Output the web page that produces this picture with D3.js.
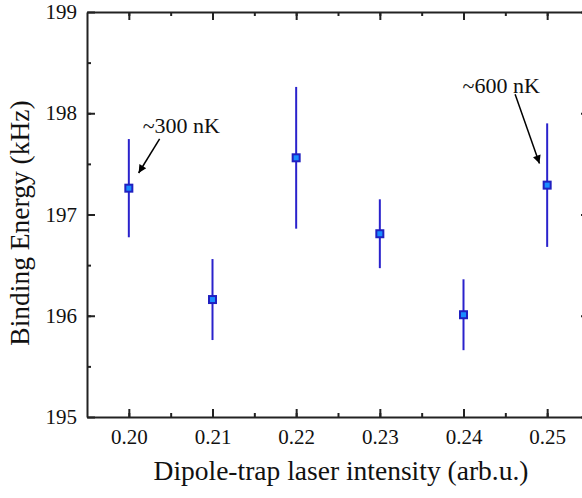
<!DOCTYPE html>
<html><head><meta charset="utf-8">
<script src="https://cdn.jsdelivr.net/npm/d3@7"></script>
<style>html,body{margin:0;padding:0;background:#fff;}svg{display:block;}</style>
</head><body>
<svg id="chart" width="582" height="498"></svg>
<script>
const intensity = [0.20, 0.21, 0.22, 0.23, 0.24, 0.25];
const bindingEnergy = [197.26, 196.16, 197.56, 196.81, 196.01, 197.29];
const errorBars = [0.485, 0.40, 0.70, 0.34, 0.35, 0.61];
const xTicks = [0.20, 0.21, 0.22, 0.23, 0.24, 0.25];
const yTicks = [195, 196, 197, 198, 199];
const annotationText = ["~300 nK", "~600 nK"];
const annotationTextPos = [[0.20165, 197.805], [0.23989, 198.20]];
const arrowStart = [[0.20368, 197.746], [0.24617, 198.187]];
const arrowEnd = [[0.20117, 197.41], [0.24908, 197.504]];

const svg = d3.select("#chart");
const L = 87, R = 589, T = 12, B = 417;
const x = d3.scaleLinear().domain([0.195, 0.255]).range([L, R]);
const y = d3.scaleLinear().domain([195, 199]).range([B, T]);
const font = "Liberation Serif, Times New Roman, Times, serif";

svg.append("defs").append("marker")
  .attr("id", "ah").attr("viewBox", "0 0 10 10").attr("refX", 10).attr("refY", 5)
  .attr("markerWidth", 11).attr("markerHeight", 8).attr("markerUnits", "userSpaceOnUse")
  .attr("orient", "auto")
  .append("path").attr("d", "M0,0 L10,5 L0,10 Z").attr("fill", "#000");

const xMinor = d3.range(0, 12).map(i => 0.195 + i * 0.005).filter(v => v > 0.1951 && v < 0.2549);
const yMinor = d3.range(0, 9).map(i => 195 + i * 0.5).filter(v => v > 195.01 && v < 198.99);

function styleAxis(g) {
  g.select(".domain").attr("stroke", "#222").attr("stroke-width", 2);
  g.selectAll(".tick line").attr("stroke", "#222").attr("stroke-width", 2);
}
// bottom
const gB = svg.append("g").attr("transform", `translate(0,${B})`)
  .call(d3.axisBottom(x).tickValues(xTicks).tickFormat(d3.format(".2f")).tickSizeInner(-8).tickSizeOuter(0).tickPadding(12));
styleAxis(gB);
gB.selectAll("text").attr("font-family", font).attr("font-size", 21).attr("fill", "#111");
svg.append("g").attr("transform", `translate(0,${B})`)
  .call(d3.axisBottom(x).tickValues(xMinor).tickFormat("").tickSizeInner(-4).tickSizeOuter(0))
  .call(g => { g.select(".domain").remove(); g.selectAll("line").attr("stroke", "#222").attr("stroke-width", 2); });
// top
const gT = svg.append("g").attr("transform", `translate(0,${T})`)
  .call(d3.axisTop(x).tickValues(xTicks).tickFormat("").tickSizeInner(-8).tickSizeOuter(0));
styleAxis(gT);
svg.append("g").attr("transform", `translate(0,${T})`)
  .call(d3.axisTop(x).tickValues(xMinor).tickFormat("").tickSizeInner(-4).tickSizeOuter(0))
  .call(g => { g.select(".domain").remove(); g.selectAll("line").attr("stroke", "#222").attr("stroke-width", 2); });
// left
const gL = svg.append("g").attr("transform", `translate(${L},0)`)
  .call(d3.axisLeft(y).tickValues(yTicks).tickFormat(d3.format("d")).tickSizeInner(-8).tickSizeOuter(0).tickPadding(10));
styleAxis(gL);
gL.selectAll("text").attr("font-family", font).attr("font-size", 21).attr("fill", "#111");
svg.append("g").attr("transform", `translate(${L},0)`)
  .call(d3.axisLeft(y).tickValues(yMinor).tickFormat("").tickSizeInner(-4).tickSizeOuter(0))
  .call(g => { g.select(".domain").remove(); g.selectAll("line").attr("stroke", "#222").attr("stroke-width", 2); });
// right
const gR = svg.append("g").attr("transform", `translate(${R},0)`)
  .call(d3.axisRight(y).tickValues(yTicks).tickFormat("").tickSizeInner(-8).tickSizeOuter(0));
styleAxis(gR);

// error bars
const pts = intensity.map((v, i) => ({x: v, y: bindingEnergy[i], e: errorBars[i]}));
svg.append("g").selectAll("line").data(pts).join("line")
  .attr("x1", d => x(d.x)).attr("x2", d => x(d.x))
  .attr("y1", d => y(d.y + d.e)).attr("y2", d => y(d.y - d.e))
  .attr("stroke", "#2a22cc").attr("stroke-width", 2);
// markers
svg.append("g").selectAll("rect").data(pts).join("rect")
  .attr("x", d => x(d.x) - 3.5).attr("y", d => y(d.y) - 3.5)
  .attr("width", 7).attr("height", 7)
  .attr("fill", "#1a8cff").attr("stroke", "#2020c0").attr("stroke-width", 2);

// annotations
annotationText.forEach((t, i) => {
  svg.append("text").attr("x", x(annotationTextPos[i][0])).attr("y", y(annotationTextPos[i][1]))
    .attr("font-family", font).attr("font-size", 22).attr("fill", "#111").text(t);
  svg.append("line")
    .attr("x1", x(arrowStart[i][0])).attr("y1", y(arrowStart[i][1]))
    .attr("x2", x(arrowEnd[i][0])).attr("y2", y(arrowEnd[i][1]))
    .attr("stroke", "#000").attr("stroke-width", 1.5).attr("marker-end", "url(#ah)");
});

// axis titles
svg.append("text").attr("x", 341).attr("y", 480).attr("text-anchor", "middle")
  .attr("font-family", font).attr("font-size", 27.5).attr("fill", "#111")
  .text("Dipole-trap laser intensity (arb.u.)");
svg.append("text").attr("transform", "translate(29,223) rotate(-90)").attr("text-anchor", "middle")
  .attr("font-family", font).attr("font-size", 27.5).attr("fill", "#111")
  .text("Binding Energy (kHz)");
</script>
</body></html>
